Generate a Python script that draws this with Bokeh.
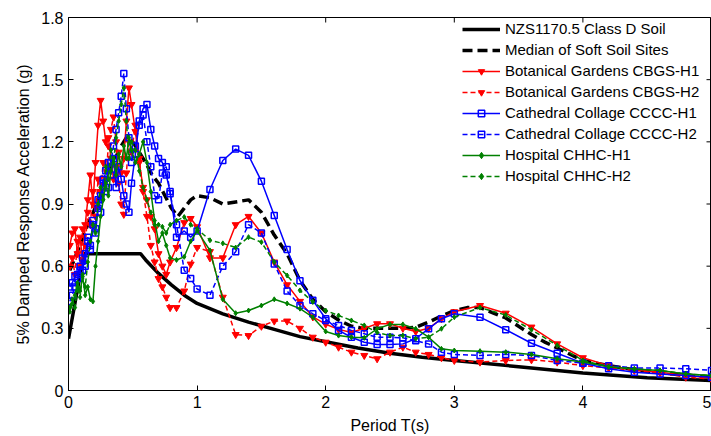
import math
from bokeh.plotting import figure
from bokeh.models import Range1d, FixedTicker
from bokeh.embed import file_html
from bokeh.resources import INLINE

# ---------------- data ----------------
period = [0.01, 0.03, 0.05, 0.07, 0.09, 0.11, 0.13, 0.15, 0.17, 0.19,
          0.21, 0.23, 0.25, 0.27, 0.29, 0.31, 0.33, 0.35, 0.37, 0.39,
          0.41, 0.43, 0.45, 0.47, 0.49, 0.52, 0.55, 0.58, 0.61, 0.64,
          0.67, 0.70, 0.73, 0.76, 0.79, 0.84, 0.90, 0.95, 1.0, 1.1,
          1.2, 1.3, 1.4, 1.5, 1.6, 1.7, 1.8, 1.9, 2.0, 2.1,
          2.2, 2.3, 2.4, 2.5, 2.6, 2.7, 2.8, 2.9, 3.0, 3.2,
          3.4, 3.6, 3.8, 4.0, 4.2, 4.4, 4.6, 4.8, 5.0]

cbgs_h1 = [0.70, 0.76, 0.78, 0.66, 0.74, 0.62, 0.80, 0.92, 1.04, 0.90,
           1.10, 1.28, 1.40, 1.30, 1.20, 1.22, 1.12, 1.02, 1.08, 1.15,
           1.05, 1.12, 1.30, 1.46, 1.38, 1.25, 1.10, 0.98, 0.92, 0.84,
           0.78, 0.66, 0.60, 0.56, 0.62, 0.69, 0.81, 0.83, 0.79, 0.64,
           0.64, 0.80, 0.84, 0.76, 0.62, 0.51, 0.43, 0.355, 0.32, 0.295,
           0.28, 0.30, 0.322, 0.322, 0.30, 0.285, 0.30, 0.346, 0.38, 0.41,
           0.373, 0.306, 0.225, 0.158, 0.12, 0.10, 0.088, 0.072, 0.06]

cbgs_h2 = [0.60, 0.64, 0.56, 0.72, 0.60, 0.78, 0.70, 0.86, 0.80, 0.96,
           0.84, 1.02, 0.96, 1.10, 1.02, 1.18, 1.26, 1.32, 1.20, 1.00,
           0.90, 0.85, 1.05, 1.20, 1.15, 1.28, 1.12, 0.96, 0.84, 0.70,
           0.62, 0.54, 0.50, 0.45, 0.40, 0.40, 0.48, 0.61, 0.69, 0.67,
           0.45, 0.27, 0.265, 0.31, 0.335, 0.335, 0.30, 0.257, 0.233, 0.209,
           0.185, 0.169, 0.153, 0.185, 0.209, 0.185, 0.174, 0.158, 0.145, 0.137,
           0.145, 0.148, 0.137, 0.12, 0.109, 0.097, 0.084, 0.064, 0.056]

cccc_h1 = [0.50, 0.52, 0.55, 0.56, 0.60, 0.58, 0.66, 0.72, 0.68, 0.80,
           0.76, 0.88, 0.94, 1.02, 0.96, 1.10, 1.04, 1.12, 0.98, 1.08,
           1.02, 0.94, 0.90, 0.86, 1.00, 1.14, 1.30, 1.36, 1.38, 1.26,
           1.18, 1.12, 1.10, 1.04, 0.96, 0.74, 0.77, 0.74, 0.77, 0.97,
           1.11, 1.165, 1.135, 1.01, 0.845, 0.68, 0.53, 0.435, 0.346, 0.29,
           0.257, 0.233, 0.222, 0.222, 0.225, 0.25, 0.298, 0.346, 0.37, 0.354,
           0.293, 0.228, 0.18, 0.132, 0.105, 0.088, 0.08, 0.072, 0.064]

cccc_h2 = [0.43, 0.46, 0.50, 0.54, 0.58, 0.64, 0.60, 0.74, 0.70, 0.82,
           0.78, 0.92, 0.86, 1.00, 1.06, 0.98, 1.10, 1.18, 1.26, 1.34,
           1.42, 1.53, 1.36, 1.22, 1.10, 1.18, 1.28, 1.33, 1.20, 1.08,
           0.94, 0.92, 1.05, 1.08, 0.95, 0.80, 0.58, 0.54, 0.49, 0.46,
           0.60, 0.67, 0.80, 0.76, 0.61, 0.48, 0.41, 0.37, 0.338, 0.314,
           0.29, 0.274, 0.257, 0.257, 0.254, 0.24, 0.225, 0.185, 0.174, 0.169,
           0.174, 0.169, 0.145, 0.132, 0.12, 0.109, 0.109, 0.105, 0.097]

chhc_h1 = [0.38, 0.42, 0.46, 0.52, 0.48, 0.55, 0.46, 0.50, 0.44, 0.43,
           0.60, 0.72, 0.84, 0.92, 1.00, 0.94, 1.06, 1.12, 1.04, 1.14,
           1.08, 1.18, 1.12, 1.22, 1.16, 1.10, 1.14, 1.20, 1.10, 0.96,
           0.82, 0.72, 0.76, 0.70, 0.64, 0.63, 0.645, 0.72, 0.77, 0.676,
           0.44, 0.373, 0.386, 0.41, 0.44, 0.42, 0.395, 0.354, 0.285, 0.265,
           0.257, 0.254, 0.298, 0.319, 0.319, 0.298, 0.257, 0.201, 0.193, 0.19,
           0.185, 0.174, 0.153, 0.137, 0.115, 0.104, 0.097, 0.08, 0.072]

chhc_h2 = [0.40, 0.44, 0.40, 0.50, 0.45, 0.56, 0.50, 0.62, 0.72, 0.80,
           0.76, 0.90, 0.98, 0.92, 1.08, 1.02, 1.16, 1.10, 1.22, 1.30,
           1.38, 1.46, 1.30, 1.12, 1.20, 1.16, 1.06, 0.98, 0.92, 0.86,
           0.80, 0.80, 0.79, 0.76, 0.80, 0.82, 0.837, 0.80, 0.78, 0.725,
           0.71, 0.69, 0.74, 0.716, 0.62, 0.555, 0.483, 0.427, 0.386, 0.362,
           0.338, 0.314, 0.28, 0.265, 0.265, 0.25, 0.257, 0.298, 0.354, 0.40,
           0.364, 0.293, 0.218, 0.145, 0.115, 0.104, 0.097, 0.08, 0.072]

nzs_period = [0.0, 0.12, 0.56, 0.6, 0.7, 0.8, 0.9, 1.0, 1.2, 1.4, 1.6, 1.8,
              2.0, 2.25, 2.5, 2.75, 3.0, 3.5, 4.0, 4.5, 5.0]
nzs_sa = [0.25, 0.66, 0.66, 0.63, 0.565, 0.51, 0.46, 0.42, 0.37, 0.33, 0.295, 0.26,
          0.235, 0.205, 0.18, 0.16, 0.145, 0.115, 0.085, 0.062, 0.048]

median_period = [0.01, 0.05, 0.1, 0.15, 0.2, 0.25, 0.3, 0.35, 0.4, 0.45,
                 0.5, 0.55, 0.6, 0.65, 0.7, 0.75, 0.8, 0.85, 0.9, 0.95,
                 1.0, 1.1, 1.2, 1.3, 1.4, 1.5, 1.6, 1.7, 1.8, 1.9,
                 2.0, 2.1, 2.2, 2.3, 2.4, 2.5, 2.6, 2.7, 2.8, 2.9,
                 3.0, 3.1, 3.2, 3.3, 3.4, 3.5, 3.6, 3.7, 3.8, 3.9,
                 4.0, 4.2, 4.4, 4.6, 4.8, 5.0]
median_sa = [0.58, 0.64, 0.72, 0.80, 0.87, 0.94, 1.02, 1.10, 1.17, 1.22,
             1.20, 1.15, 1.10, 1.04, 1.00, 0.94, 0.88, 0.84, 0.88, 0.92,
             0.94, 0.93, 0.90, 0.91, 0.92, 0.86, 0.75, 0.66, 0.53, 0.44,
             0.38, 0.34, 0.31, 0.30, 0.30, 0.30, 0.30, 0.305, 0.33, 0.36,
             0.385, 0.40, 0.40, 0.375, 0.35, 0.31, 0.27, 0.235, 0.205, 0.175,
             0.145, 0.12, 0.10, 0.085, 0.075, 0.064]

x_ticks = [0, 1, 2, 3, 4, 5]
y_ticks = [0, 0.3, 0.6, 0.9, 1.2, 1.5, 1.8]
y_tick_labels = ["0", "0.3", "0.6", "0.9", "1.2", "1.5", "1.8"]

labels = ["NZS1170.5 Class D Soil", "Median of Soft Soil Sites",
          "Botanical Gardens CBGS-H1", "Botanical Gardens CBGS-H2",
          "Cathedral Collage CCCC-H1", "Cathedral Collage CCCC-H2",
          "Hospital CHHC-H1", "Hospital CHHC-H2"]

FONT = "Liberation Sans"
X_MIN, X_MAX = 0, 5
Y_MIN, Y_MAX = 0, 1.8

p = figure(width=711, height=436, output_backend="svg", toolbar_location=None,
           x_range=Range1d(X_MIN, X_MAX), y_range=Range1d(Y_MIN, Y_MAX),
           min_border_left=68, min_border_right=0, min_border_top=17,
           min_border_bottom=46)
p.xgrid.visible = False
p.ygrid.visible = False
p.outline_line_color = "black"
p.outline_line_alpha = 1
p.outline_line_width = 1
p.background_fill_color = "white"
p.border_fill_color = "white"

# black reference curves
p.line(nzs_period, nzs_sa, color="black", line_width=3.5, legend_label=labels[0])
p.line(median_period, median_sa, color="black", line_width=3.5, line_dash="10 5",
       legend_label=labels[1])

series = [
    (cbgs_h1, "#ff0000", "solid", "inverted_triangle", labels[2]),
    (cbgs_h2, "#ff0000", "5 3", "inverted_triangle", labels[3]),
    (cccc_h1, "#0000ff", "solid", "square", labels[4]),
    (cccc_h2, "#0000ff", "5 3", "square", labels[5]),
    (chhc_h1, "#008000", "solid", "diamond", labels[6]),
    (chhc_h2, "#008000", "5 3", "diamond", labels[7]),
]
for vals, col, dash, mk, lab in series:
    p.line(period, vals, color=col, line_width=1.5, line_dash=dash, legend_label=lab)
    if mk == "square":
        p.scatter(period, vals, marker=mk, size=6, line_color=col, line_width=1.5,
                  fill_alpha=0, legend_label=lab)
    elif mk == "inverted_triangle":
        p.scatter(period, vals, marker=mk, size=7, line_color=col, fill_color=col,
                  legend_label=lab)
    else:
        p.scatter(period, vals, marker=mk, size=5, line_color=col, fill_color=col,
                  legend_label=lab)

# inward tick marks on the top and right edges of the box (half of each
# 10px dash is clipped away by the frame, leaving a 5px inward tick)
p.scatter(x_ticks, [Y_MAX] * len(x_ticks), marker="dash", size=10,
          angle=math.pi / 2, line_color="black", line_width=1)
p.scatter([X_MAX] * len(y_ticks), y_ticks, marker="dash", size=10,
          line_color="black", line_width=1)

# axes
p.xaxis.ticker = FixedTicker(ticks=x_ticks)
p.yaxis.ticker = FixedTicker(ticks=y_ticks)
p.yaxis.major_label_overrides = {t: s for t, s in zip(y_ticks, y_tick_labels)}
p.xaxis.axis_label = "Period T(s)"
p.yaxis.axis_label = "5% Damped Response Acceleration (g)"
for ax in [p.xaxis[0], p.yaxis[0]]:
    ax.major_tick_in = 5
    ax.major_tick_out = 0
    ax.minor_tick_in = 0
    ax.minor_tick_out = 0
    ax.axis_line_color = "black"
    ax.major_tick_line_color = "black"
    ax.major_label_text_font = FONT
    ax.major_label_text_font_size = "16px"
    ax.major_label_text_color = "black"
    ax.major_label_standoff = 5
    ax.axis_label_text_font = FONT
    ax.axis_label_text_font_size = "16px"
    ax.axis_label_text_font_style = "normal"
    ax.axis_label_text_color = "black"
    ax.axis_label_standoff = 6

# legend (location = bottom-left corner, measured from the frame's bottom-left)
lg = p.legend[0]
lg.location = (389, 201)
lg.border_line_alpha = 0
lg.background_fill_alpha = 0
lg.label_text_font = FONT
lg.label_text_font_size = "15px"
lg.label_text_color = "black"
lg.glyph_width = 38
lg.glyph_height = 16
lg.label_height = 16
lg.label_standoff = 5
lg.spacing = 4
lg.padding = 5
lg.margin = 0

open("out.html", "w").write(file_html(p, INLINE))
